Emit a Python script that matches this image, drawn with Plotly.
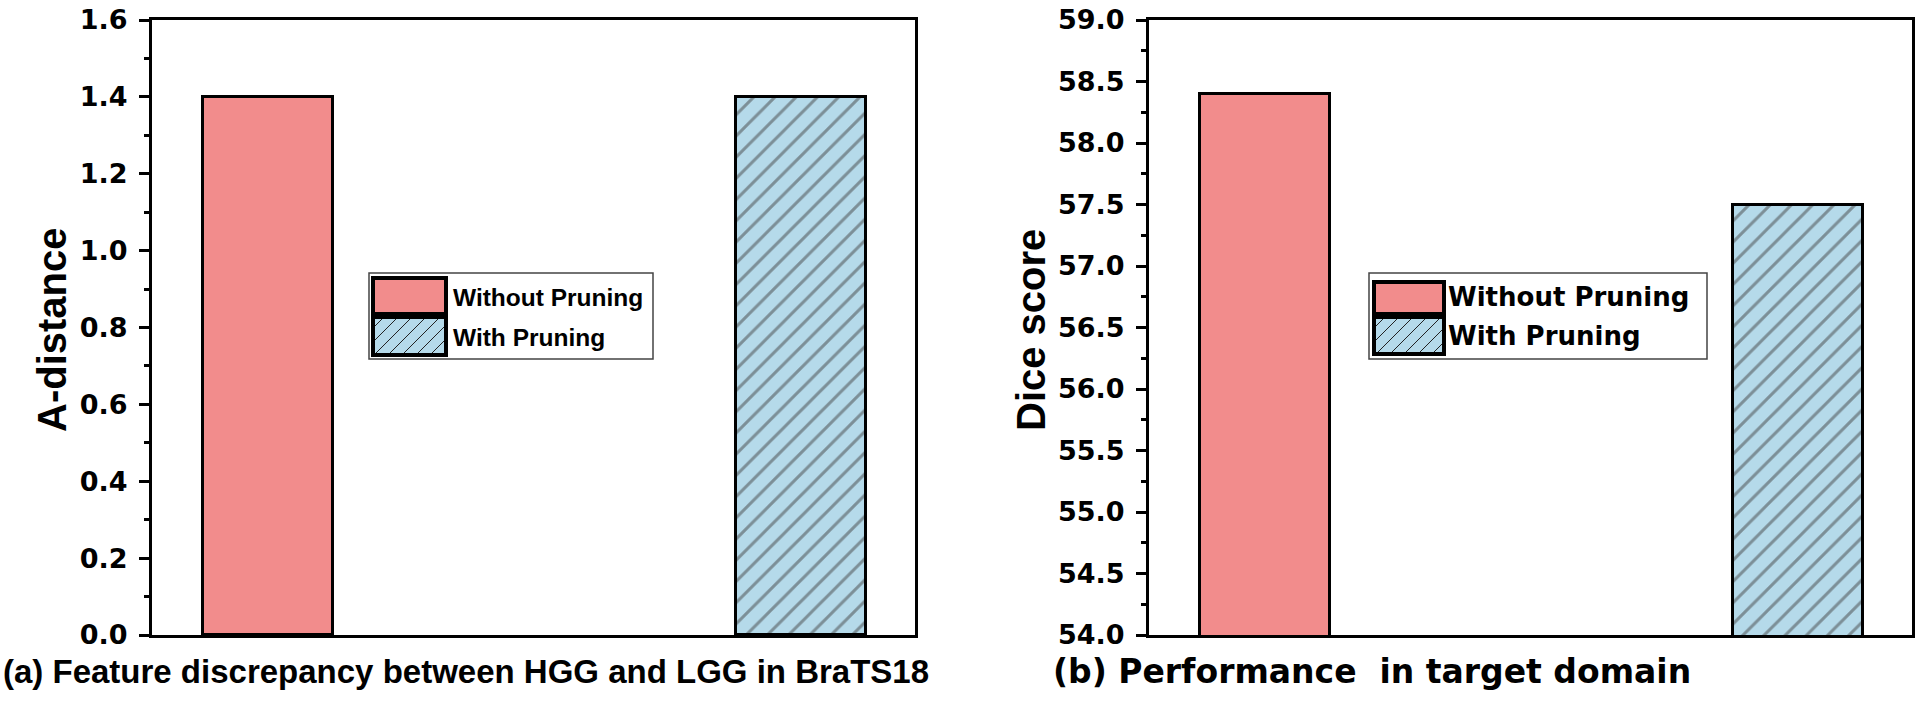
import plotly.graph_objects as go

# ---------------- data ----------------
categories = ["Without Pruning", "With Pruning"]
a_distance = [1.4, 1.4]
dice_score = [58.4, 57.5]
left_ticks = [0.0, 0.2, 0.4, 0.6, 0.8, 1.0, 1.2, 1.4, 1.6]
right_ticks = [54.0, 54.5, 55.0, 55.5, 56.0, 56.5, 57.0, 57.5, 58.0, 58.5, 59.0]
y_titles = ["A-distance", "Dice score"]
captions = ["(a) Feature discrepancy between HGG and LGG in BraTS18",
            "(b) Performance\u00a0\u00a0in target domain"]

# ---------------- styles ----------------
PINK = "#F28C8C"
BLUE = "#B5DAEA"
W, H = 1920, 702
TICK_FONT = dict(family="DejaVu Sans", size=27, color="black", weight="bold")
BAR_WIDTH = 0.244
XRANGE = [-0.2176, 1.2138]


def px(x):
    return x / W


def py(y):
    return 1 - y / H


fig = go.Figure()

for i, vals in enumerate([a_distance, dice_score]):
    fig.add_trace(go.Bar(
        x=categories, y=vals, width=BAR_WIDTH,
        xaxis="x" if i == 0 else "x2", yaxis="y" if i == 0 else "y2",
        marker=dict(color=[PINK, BLUE],
                    line=dict(color="black", width=3),
                    pattern=dict(shape=["", "/"], fillmode="overlay",
                                 fgcolor="#000000", size=15, solidity=0.2)),
        showlegend=False, hoverinfo="x+y",
    ))

axis_common = dict(showline=True, linecolor="black", linewidth=3, mirror=True,
                   showgrid=False, zeroline=False, automargin=False)

y_dom = [py(635), py(20)]
fig.update_layout(
    width=W, height=H, margin=dict(l=0, r=0, t=0, b=0, autoexpand=False),
    plot_bgcolor="white", paper_bgcolor="white", bargap=0, showlegend=False,
    xaxis=dict(domain=[px(152), px(915)], range=XRANGE, showticklabels=False,
               ticks="", anchor="y", **axis_common),
    xaxis2=dict(domain=[px(1149), px(1912)], range=XRANGE, showticklabels=False,
                ticks="", anchor="y2", **axis_common),
    yaxis=dict(domain=y_dom, range=[left_ticks[0], left_ticks[-1]], tickvals=left_ticks,
               tickformat=".1f", ticks="outside", ticklen=10, tickwidth=3, tickcolor="black",
               tickfont=TICK_FONT, anchor="x", ticklabelstandoff=6,
               minor=dict(dtick=0.1, ticks="outside", ticklen=5, tickwidth=3, tickcolor="black"),
               **axis_common),
    yaxis2=dict(domain=y_dom, range=[right_ticks[0], right_ticks[-1]], tickvals=right_ticks,
                tickformat=".1f", ticks="outside", ticklen=10, tickwidth=3, tickcolor="black",
                tickfont=TICK_FONT, anchor="x2", ticklabelstandoff=6,
                minor=dict(dtick=0.25, ticks="outside", ticklen=5, tickwidth=3, tickcolor="black"),
                **axis_common),
)

# axis titles
for txt, xc, yc in [(y_titles[0], 52, 330), (y_titles[1], 1031, 330)]:
    fig.add_annotation(text=txt, x=px(xc), y=py(yc), xref="paper", yref="paper",
                       xanchor="center", yanchor="middle", textangle=-90, showarrow=False,
                       font=dict(family="Liberation Sans", size=40, color="black",
                                 weight="bold"))

# captions
fig.add_annotation(text=captions[0], x=px(466), y=py(671), xref="paper", yref="paper",
                   xanchor="center", yanchor="middle", showarrow=False,
                   font=dict(family="Liberation Sans", size=33, color="black", weight="bold"))
fig.add_annotation(text=captions[1], x=px(1372), y=py(671), xref="paper", yref="paper",
                   xanchor="center", yanchor="middle", showarrow=False,
                   font=dict(family="DejaVu Sans", size=33, color="black", weight="bold"))


# custom legends (large swatches like the original)
def hatch_segments(x0, y0, x1, y1, step):
    segs = []
    w, h = x1 - x0, y1 - y0
    c = -h + step / 2
    while c < w:
        t0 = max(0, -c)
        t1 = min(h, w - c)
        if t1 > t0:
            segs.append((x0 + c + t0, y1 - t0, x0 + c + t1, y1 - t1))
        c += step
    return segs


def add_legend(box, sw_x, rows, text_x, labels, font):
    bx0, by0, bx1, by1 = box
    fig.add_shape(type="rect", xref="paper", yref="paper",
                  x0=px(bx0), x1=px(bx1), y0=py(by1), y1=py(by0),
                  line=dict(color="#444444", width=1.5), fillcolor="white")
    colors = [PINK, BLUE]
    for k, (ry0, ry1, ty) in enumerate(rows):
        fig.add_shape(type="rect", xref="paper", yref="paper",
                      x0=px(sw_x[0]), x1=px(sw_x[1]), y0=py(ry1), y1=py(ry0),
                      line=dict(color="black", width=4), fillcolor=colors[k])
        if k == 1:
            for (a, b, c, d) in hatch_segments(sw_x[0] + 2, ry0 + 2, sw_x[1] - 2, ry1 - 2, 14):
                fig.add_shape(type="line", xref="paper", yref="paper",
                              x0=px(a), y0=py(b), x1=px(c), y1=py(d),
                              line=dict(color="#222222", width=1))
        fig.add_annotation(text=labels[k], x=px(text_x), y=py(ty), xref="paper", yref="paper",
                           xanchor="left", yanchor="middle", showarrow=False,
                           font=font)


add_legend((369, 273, 653, 359), (373, 446), [(278, 314, 297), (317, 355, 337)], 451,
           categories, dict(family="Liberation Sans", size=24.5, color="black", weight="bold"))
add_legend((1369, 273, 1707, 359), (1374, 1444), [(282, 314, 297), (317, 354, 336)], 1446,
           categories, dict(family="DejaVu Sans", size=26, color="black", weight="bold"))

fig.write_html("out.html", config={"displayModeBar": False},
               post_script="document.body.style.margin='0';")
